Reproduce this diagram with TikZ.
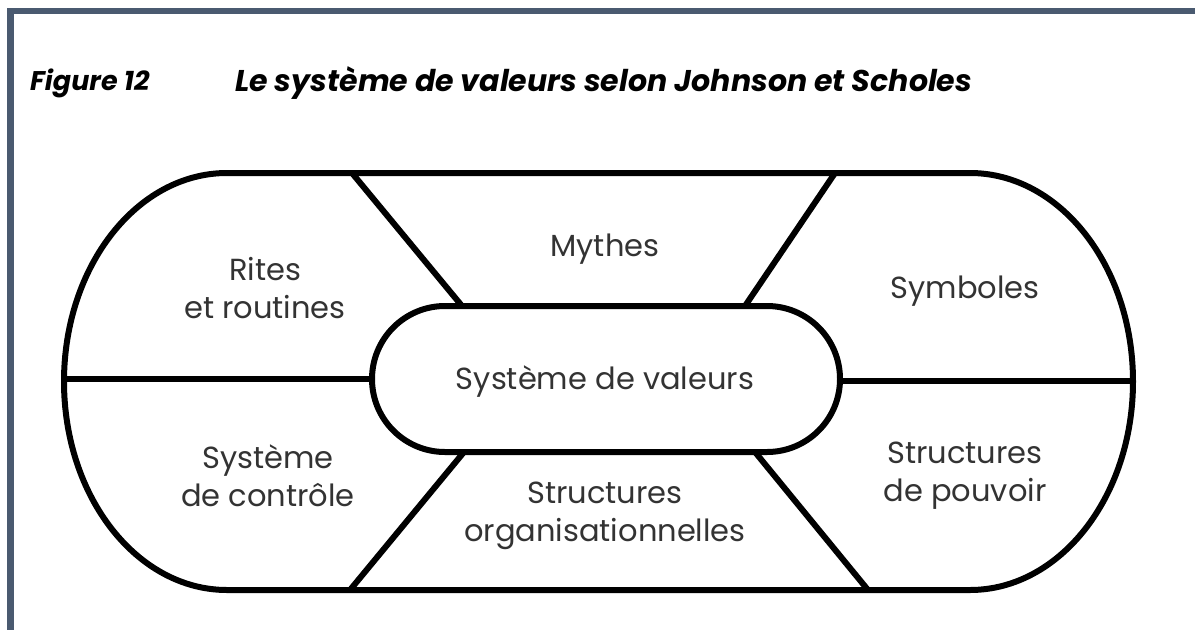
\documentclass[tikz,border=0pt]{standalone}
\usepackage{fontspec}
\setmainfont{Poppins}
\begin{document}
\begin{tikzpicture}[x=1pt,y=-1pt]
\definecolor{framecol}{HTML}{4A5A70}
\definecolor{txt}{HTML}{333333}
\tikzset{
  shape line/.style={line width=6pt,draw=black,line join=round},
  lbl/.style={text=txt,align=center,font=\fontsize{30.5}{38}\selectfont,inner sep=0pt},
  ttl/.style={text=black,anchor=west,inner sep=0pt}
}
\useasboundingbox (0,0) rectangle (1195,630);
\fill[white] (0,0) rectangle (1195,630);
% frame
\fill[framecol] (7,8) rectangle (1195,14);
\fill[framecol] (7,8) rectangle (14,630);
% titles
\node[ttl,font=\fontsize{27}{30}\selectfont\bfseries\itshape] (fig) at (30,83) {Figure 12};
\node[ttl,font=\fontsize{30}{33}\selectfont\bfseries\itshape] (title) at (235,83) {Le système de valeurs selon Johnson et Scholes};
% outer shape
\draw[shape line] (227,173) -- (970,173)
  arc[start angle=-90,end angle=90,x radius=163,y radius=208.5]
  -- (227,590)
  arc[start angle=90,end angle=270,x radius=163,y radius=208.5] -- cycle;
% inner stadium
\draw[shape line,rounded corners=73pt] (372,306) rectangle (840,452);
% connection coordinates
\coordinate (oTL) at (352,173);
\coordinate (iTL) at (462,306);
\coordinate (oTR) at (835,173);
\coordinate (iTR) at (745,306);
\coordinate (oBL) at (350,590);
\coordinate (iBL) at (464,452);
\coordinate (oBR) at (868,590);
\coordinate (iBR) at (755,452);
\coordinate (oL) at (67,379);
\coordinate (iL) at (372,379);
\coordinate (oR) at (1130,381);
\coordinate (iR) at (840,381);
\draw[shape line] (oTL) -- (iTL);
\draw[shape line] (oTR) -- (iTR);
\draw[shape line] (oBL) -- (iBL);
\draw[shape line] (oBR) -- (iBR);
\draw[shape line] (oL) -- (iL);
\draw[shape line] (oR) -- (iR);
% labels
\node[lbl] (rites) at (265,288) {Rites\\et routines};
\node[lbl] (mythes) at (605,249) {Mythes};
\node[lbl] (symb) at (965,291) {Symboles};
\node[lbl] (core) at (605,382) {Système de valeurs};
\node[lbl] (ctrl) at (268,476) {Système\\de contrôle};
\node[lbl] (org) at (605,516) {Structures\\organisationnelles};
\node[lbl] (pouv) at (965,476) {Structures\\de pouvoir};
\end{tikzpicture}
\end{document}
